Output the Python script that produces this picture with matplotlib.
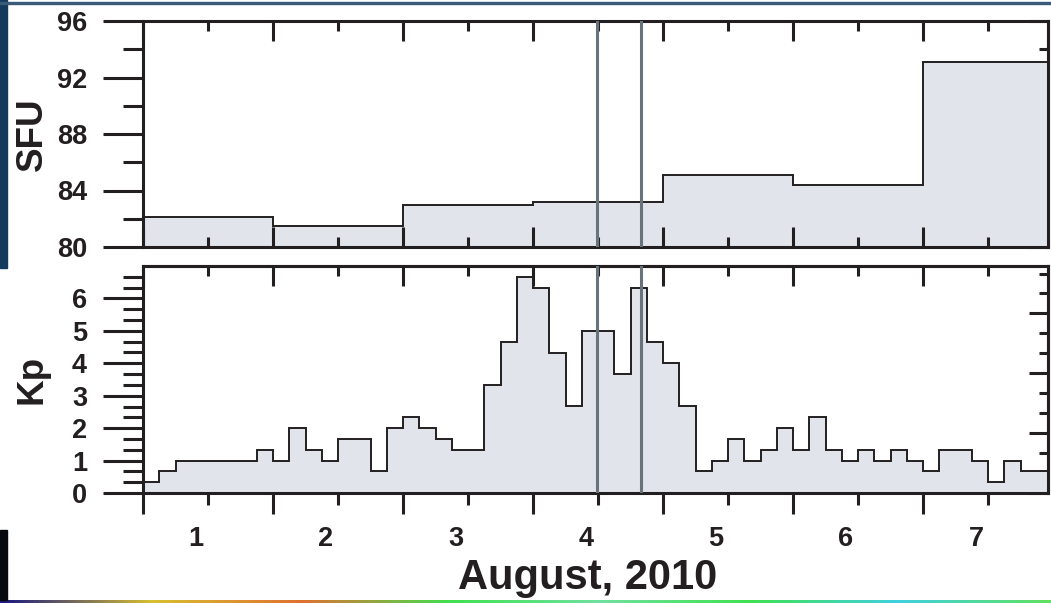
import numpy as np
import matplotlib
matplotlib.use("Agg")
import matplotlib.pyplot as plt
from matplotlib import transforms
from matplotlib.ticker import MultipleLocator, FixedLocator
from matplotlib.patches import Rectangle
from matplotlib.colors import LinearSegmentedColormap

# Daily solar radio flux, 1-7 August 2010 (solar flux units)
sfu_days = [1, 2, 3, 4, 5, 6, 7]
sfu_values = [82.1, 81.5, 83.0, 83.2, 85.1, 84.4, 93.1]

# Planetary Kp index, 3-hour intervals starting 00 UT on 1 August 2010
kp_values = [
    0.33, 0.67, 1.0, 1.0, 1.0, 1.0, 1.0, 1.33,      # Aug 1
    1.0, 2.0, 1.33, 1.0, 1.67, 1.67, 0.67, 2.0,     # Aug 2
    2.33, 2.0, 1.67, 1.33, 1.33, 3.33, 4.67, 6.67,  # Aug 3
    6.33, 4.33, 2.67, 5.0, 5.0, 3.67, 6.33, 4.67,   # Aug 4
    4.0, 2.67, 0.67, 1.0, 1.67, 1.0, 1.33, 2.0,     # Aug 5
    1.33, 2.33, 1.33, 1.0, 1.33, 1.0, 1.33, 1.0,    # Aug 6
    0.67, 1.33, 1.33, 1.0, 0.33, 1.0, 0.67, 0.67,   # Aug 7
]

# Event markers (day of month, fractional)
event_days = [4.495, 4.83]

x_label = "August, 2010"
sfu_label = "SFU"
kp_label = "Kp"

INK = "#231f20"
FILL = "#e1e4ea"
EVENT = "#69737a"
LW = 2.2
TICK_FS = 19.5

plt.rcParams["font.family"] = ["Liberation Sans", "DejaVu Sans"]
plt.rcParams["font.weight"] = "bold"

W, H = 1051, 603
fig = plt.figure(figsize=(W / 100, H / 100), dpi=100)


def px_axes(left, top, right, bottom):
    return fig.add_axes([left / W, 1 - bottom / H, (right - left) / W, (bottom - top) / H])


ax1 = px_axes(143, 21, 1048, 247)
ax2 = px_axes(143, 266, 1048, 493)

day_edges = np.append(sfu_days, sfu_days[-1] + 1)
kp_edges = sfu_days[0] + np.arange(len(kp_values) + 1) / 8.0
x_lo, x_hi = sfu_days[0], sfu_days[0] + 905 / 130

for ax in (ax1, ax2):
    for sp in ax.spines.values():
        sp.set_linewidth(LW)
        sp.set_color(INK)
    ax.set_xlim(x_lo, x_hi)
    ax.xaxis.set_major_locator(MultipleLocator(1))
    ax.xaxis.set_minor_locator(MultipleLocator(0.5))
    for xe in event_days:
        ax.axvline(xe, color=EVENT, lw=LW, zorder=3)

# ---- solar flux panel ----
ax1.stairs(sfu_values, day_edges, baseline=80, fill=True, color=FILL, lw=0, zorder=1)
ax1.stairs(sfu_values, day_edges, baseline=None, color=INK, lw=1.4, zorder=2)
ax1.set_ylim(80, 96)
ax1.yaxis.set_major_locator(MultipleLocator(4))
ax1.yaxis.set_minor_locator(MultipleLocator(2))
ax1.tick_params(axis="x", which="both", direction="in", top=True, bottom=True,
                labelbottom=False, width=LW, color=INK)
ax1.tick_params(axis="x", which="major", length=14.4)
ax1.tick_params(axis="x", which="minor", length=7.2)
ax1.tick_params(axis="y", which="both", direction="out", left=True, right=False,
                width=LW, color=INK, labelsize=TICK_FS, pad=11.5, labelcolor=INK)
ax1.tick_params(axis="y", which="major", length=28.8)
ax1.tick_params(axis="y", which="minor", length=14.4)

r1 = ax1.secondary_yaxis("right")
r1.yaxis.set_major_locator(MultipleLocator(4))
r1.yaxis.set_minor_locator(MultipleLocator(2))
r1.tick_params(which="both", direction="in", width=LW, color=INK, labelright=False)
r1.tick_params(which="major", length=13.7)
r1.tick_params(which="minor", length=6.8)
r1.spines["right"].set_linewidth(LW)
r1.spines["right"].set_color(INK)

# ---- Kp panel ----
ax2.stairs(kp_values, kp_edges, baseline=0, fill=True, color=FILL, lw=0, zorder=1)
ax2.stairs(kp_values, kp_edges, baseline=None, color=INK, lw=1.4, zorder=2)
ax2.set_ylim(0, 7)
ax2.yaxis.set_major_locator(FixedLocator(np.arange(0, 7)))
ax2.yaxis.set_minor_locator(FixedLocator(np.arange(0, 21) / 3))
ax2.tick_params(axis="x", which="both", direction="out", top=False, bottom=True,
                labelbottom=False, width=LW, color=INK)
ax2.tick_params(axis="x", which="major", length=15.1)
ax2.tick_params(axis="x", which="minor", length=8.6)
ax2.tick_params(axis="y", which="both", direction="out", left=True, right=False,
                width=LW, color=INK, labelsize=TICK_FS, pad=11.5, labelcolor=INK)
ax2.tick_params(axis="y", which="major", length=28.8)
ax2.tick_params(axis="y", which="minor", length=14.4)

t2 = ax2.secondary_xaxis("top")
t2.xaxis.set_major_locator(MultipleLocator(1))
t2.xaxis.set_minor_locator(MultipleLocator(0.5))
t2.tick_params(which="both", direction="in", width=LW, color=INK, labeltop=False)
t2.tick_params(which="major", length=14.4)
t2.tick_params(which="minor", length=7.2)
t2.spines["top"].set_linewidth(LW)
t2.spines["top"].set_color(INK)

kp_right_step = 1.846
r2 = ax2.secondary_yaxis("right")
r2.yaxis.set_major_locator(FixedLocator(np.arange(0, 7, kp_right_step)))
r2.yaxis.set_minor_locator(FixedLocator(np.arange(0, 7, kp_right_step / 3)))
r2.tick_params(which="both", direction="in", width=LW, color=INK, labelright=False)
r2.tick_params(which="major", length=13.7)
r2.tick_params(which="minor", length=6.8)
r2.spines["right"].set_linewidth(LW)
r2.spines["right"].set_color(INK)

# Day-of-month labels under the Kp panel
day_trans = transforms.blended_transform_factory(ax2.transData, ax2.transAxes) + \
    transforms.ScaledTranslation(-0.12, -0.335, fig.dpi_scale_trans)
for d in sfu_days:
    ax2.text(d + 0.5, 0, str(d), transform=day_trans, ha="center", va="top",
             fontsize=TICK_FS, fontweight="bold", color=INK, clip_on=False)

fig.text(587.5 / W, 1 - 589 / H, x_label, ha="center", va="baseline",
         fontsize=30, fontweight="bold", color=INK)
fig.text(32 / W, 1 - 134 / H, sfu_label, rotation=90, ha="center", va="center",
         fontsize=26.5, fontweight="bold", color=INK)
fig.text(32 / W, 1 - 379 / H, kp_label, rotation=90, ha="center", va="center",
         fontsize=26.5, fontweight="bold", color=INK)

# Slide background showing around the figure edges
fig.patches.append(Rectangle((0, 1 - 268 / H), 7 / W, 268 / H, transform=fig.transFigure,
                             color="#13395c", zorder=0))
fig.patches.append(Rectangle((0, 1 - 3.5 / H), 1, 1.5 / H, transform=fig.transFigure,
                             color="#3a5a7a", zorder=0))
fig.patches.append(Rectangle((0, 3 / H), 7 / W, 70 / H, transform=fig.transFigure,
                             color="#08080f", zorder=0))
strip = fig.add_axes([0, 0, 1, 3 / H])
strip.set_axis_off()
band = LinearSegmentedColormap.from_list(
    "band", ["#1a1a80", "#d8c030", "#e07030", "#40e050", "#70e0a0", "#40e050", "#40d0e0", "#60e060"])
strip.imshow(np.linspace(0, 1, 256)[None, :], aspect="auto", cmap=band)

fig.savefig("out.png", dpi=100)
